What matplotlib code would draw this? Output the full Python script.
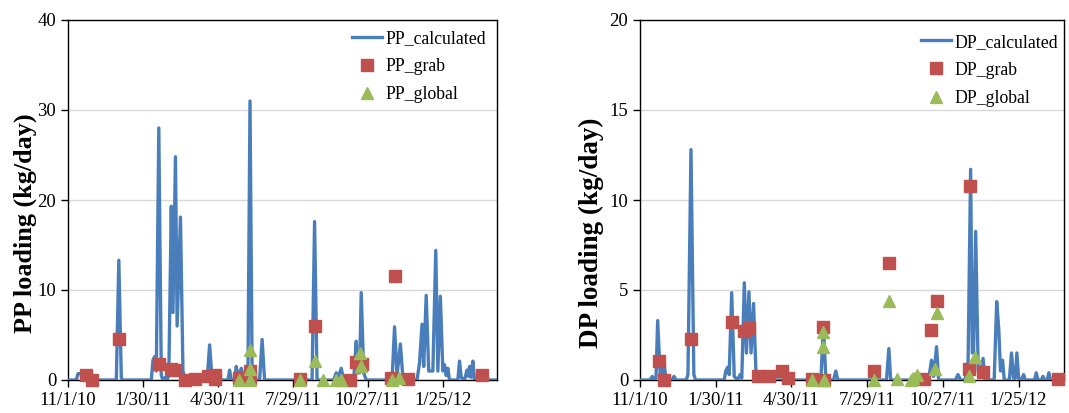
import numpy as np
import pandas as pd
import matplotlib
matplotlib.use("Agg")
import matplotlib.pyplot as plt
import matplotlib.dates as mdates

plt.rcParams['font.family'] = ['Liberation Serif', 'DejaVu Serif']

start = pd.Timestamp("2010-11-01")

# calculated loadings, vertices as (days after 11/1/10, kg/day)
pp_calc_days = [0, 10, 12, 17, 19, 58, 61, 64, 66, 100, 102, 104, 106, 109, 112, 114, 117, 119,
                121, 124, 126, 129, 131, 135, 138, 140, 143, 167, 170, 173,
                192, 194, 196, 200, 202, 204, 208, 210, 216, 218.5, 221, 224, 230, 233, 236,
                293, 296, 299, 319, 322, 324, 328, 331, 343, 344, 346, 348, 350, 352, 355, 358,
                389, 392, 395, 399, 402, 404, 419, 422, 425, 427, 430, 433, 438, 441.5, 444, 447,
                450, 452, 454, 456, 458, 468, 470, 472, 476, 479, 481, 482, 484, 486, 488, 515]
pp_calc = [0, 0, 0.7, 0.7, 0, 0, 13.3, 0.2, 0, 0, 2.2, 2.6, 1.0, 28.0, 0.5, 0, 0.3, 0,
           0.5, 19.3, 7.5, 24.8, 6.0, 18.1, 1.0, 0.3, 0, 0, 3.9, 0,
           0, 1.1, 0, 0, 1.5, 0.3, 1.3, 0.4, 0.5, 31.0, 1.0, 0, 0, 4.5, 0,
           0, 17.6, 0, 0, 0.8, 0.2, 1.3, 0, 0, 1.5, 4.3, 0.8, 0.8, 9.7, 0.8, 0,
           0, 5.9, 0.5, 4.0, 0.3, 0, 0, 1.9, 6.2, 1.5, 9.4, 1.0, 1.0, 14.4, 1.0, 9.3,
           1.0, 1.7, 0.5, 1.3, 0, 0, 2.1, 0.3, 0, 1.1, 0.4, 1.5, 0.3, 2.1, 0, 0]

dp_calc_days = [0, 12, 14.6, 17, 19, 21, 24, 26, 28.5, 31, 38, 40.4, 43,
                55, 57, 60.6, 64, 66, 100, 102, 104, 106, 109, 112, 116, 119, 121, 124, 126.5,
                129.5, 132, 135, 138, 140, 215, 218, 221, 230, 232.8, 235, 293, 295.8, 298,
                343, 346.5, 349, 352.5, 355, 375, 378, 381, 386, 388, 390, 393, 395, 396.5, 399,
                402, 405, 407.8, 410, 421, 424, 426.5, 428.5, 431, 433, 439, 441.6, 444, 446, 448,
                450, 453, 456, 458, 469, 471, 473, 477, 479, 481, 484, 486, 488, 505]
dp_calc = [0, 0, 0.2, 0, 0.1, 3.3, 0.3, 0.2, 1.0, 0, 0, 0.2, 0,
           0, 0.3, 12.8, 0.3, 0, 0, 0.5, 0.7, 0.3, 4.85, 0.2, 0, 0.3, 0.1, 5.4, 1.5,
           4.9, 1.5, 4.25, 0.2, 0, 0, 3.0, 0, 0, 0.5, 0, 0, 1.75, 0,
           0, 1.1, 0.2, 1.85, 0, 0, 0.3, 0, 0, 0.3, 1.0, 11.7, 1.5, 1.5, 8.25,
           0.5, 0.3, 1.2, 0, 0, 4.35, 2.8, 0.5, 1.1, 0, 0, 1.5, 0.1, 0.1, 1.5,
           0.1, 0, 0.3, 0, 0, 0.4, 0, 0, 0.2, 0, 0, 0.4, 0, 0]

# grab samples
pp_grab_dates = ["2010-11-23", "2010-11-30", "2011-01-01", "2011-02-18", "2011-03-05", "2011-03-10",
                 "2011-03-21", "2011-04-03", "2011-04-18", "2011-04-26", "2011-04-27", "2011-05-25",
                 "2011-06-07", "2011-06-08", "2011-08-06", "2011-08-24", "2011-10-05", "2011-10-13",
                 "2011-10-20", "2011-11-24", "2011-11-28", "2011-12-14", "2012-03-12"]
pp_grab = [0.55, 0.0, 4.6, 1.75, 1.2, 1.1, 0.0, 0.1, 0.5, 0.55, 0.1, 0.2,
           1.0, 0.2, 0.1, 6.0, 0.0, 2.0, 1.8, 0.2, 11.6, 0.1, 0.55]

dp_grab_dates = ["2010-11-23", "2010-11-30", "2011-01-01", "2011-02-18", "2011-03-05", "2011-03-10",
                 "2011-03-21", "2011-04-03", "2011-04-19", "2011-04-26", "2011-05-25", "2011-06-07",
                 "2011-06-08", "2011-08-06", "2011-08-24", "2011-10-05", "2011-10-13", "2011-10-20",
                 "2011-11-27", "2011-11-28", "2011-12-14", "2012-03-12"]
dp_grab = [1.05, 0.0, 2.3, 3.2, 2.7, 2.9, 0.2, 0.2, 0.5, 0.1, 0.05, 2.95,
           0.0, 0.5, 6.5, 0.05, 2.8, 4.4, 0.6, 10.8, 0.45, 0.05]

# global samples
pp_global_dates = ["2011-05-25", "2011-06-07", "2011-06-07", "2011-06-08", "2011-08-06", "2011-08-24",
                   "2011-09-03", "2011-09-19", "2011-09-25", "2011-10-18", "2011-10-19", "2011-11-25",
                   "2011-12-03"]
pp_global = [0.0, 3.3, 1.2, 0.0, 0.0, 2.15, 0.0, 0.0, 0.0, 3.0, 1.6, 0.0, 0.2]

dp_global_dates = ["2011-05-25", "2011-06-07", "2011-06-07", "2011-06-08", "2011-08-06", "2011-08-24",
                   "2011-09-03", "2011-09-19", "2011-09-21", "2011-09-26", "2011-10-18", "2011-10-20",
                   "2011-11-27", "2011-12-04"]
dp_global = [0.0, 2.65, 1.85, 0.0, 0.0, 4.4, 0.05, 0.0, 0.1, 0.3, 0.6, 3.75, 0.2, 1.3]

tick_dates = ["2010-11-01", "2011-01-30", "2011-04-30", "2011-07-29", "2011-10-27", "2012-01-25"]

blue = "#4A7EBB"
red = "#C0504D"
green = "#9BBB59"

fig = plt.figure(figsize=(10.69, 4.13), dpi=100)
ax1 = fig.add_axes([68 / 1069, 1 - 380 / 413, 429 / 1069, 360 / 413])
ax2 = fig.add_axes([640 / 1069, 1 - 380 / 413, 424 / 1069, 360 / 413])


def panel(ax, name, calc_days, calc, grab_dates, grab, glob_dates, glob, ymax, ystep, xdays,
          leg_xy, lab_size, lab_xy):
    ax.plot(start + pd.to_timedelta(calc_days, unit="D"), calc, color=blue, lw=2.4,
            label=name + "_calculated", zorder=3)
    ax.plot(pd.to_datetime(grab_dates), grab, ls="none", marker="s", ms=8.5, color=red,
            label=name + "_grab", zorder=4, clip_on=False)
    ax.plot(pd.to_datetime(glob_dates), glob, ls="none", marker="^", ms=9, color=green,
            label=name + "_global", zorder=5, clip_on=False)

    ax.set_ylim(0, ymax)
    ax.set_yticks(np.arange(0, ymax + 1, ystep))
    ax.set_xlim(mdates.date2num(start), mdates.date2num(start + pd.Timedelta(days=xdays)))
    td = pd.to_datetime(tick_dates)
    ax.set_xticks(mdates.date2num(td))
    ax.set_xticklabels(["{}/{}/{:02d}".format(d.month, d.day, d.year % 100) for d in td])
    ax.tick_params(direction="out", length=5, width=1, labelsize=13.5, color="black")
    ax.yaxis.grid(True, color="#D9D9D9", lw=1)
    ax.set_axisbelow(True)
    for s in ax.spines.values():
        s.set_color("black")
        s.set_linewidth(1)
    ax.set_ylabel(name + " loading (kg/day)", fontsize=lab_size, fontweight="bold")
    ax.yaxis.set_label_coords(*lab_xy)
    ax.legend(loc="upper left", bbox_to_anchor=leg_xy, frameon=False, fontsize=12.8,
              handlelength=1.7, handletextpad=0.2, labelspacing=0.62, borderpad=0,
              borderaxespad=0)


panel(ax1, "PP", pp_calc_days, pp_calc, pp_grab_dates, pp_grab, pp_global_dates, pp_global,
      40, 10, 515, (0.662, 0.972), 18.8, (-0.072, 0.436))
panel(ax2, "DP", dp_calc_days, dp_calc, dp_grab_dates, dp_grab, dp_global_dates, dp_global,
      20, 5, 504, (0.663, 0.962), 19.5, (-0.084, 0.41))

fig.savefig("out.png", dpi=100)
